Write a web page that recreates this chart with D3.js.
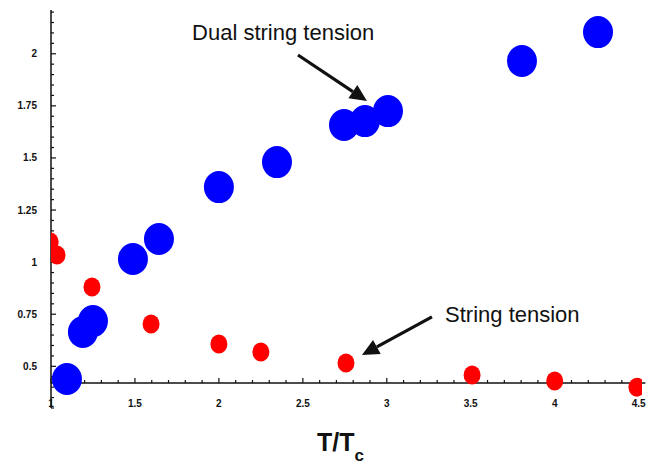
<!DOCTYPE html>
<html><head><meta charset="utf-8">
<script src="https://cdn.jsdelivr.net/npm/d3@7"></script>
<style>
html,body{margin:0;padding:0;background:#fff;}
svg{display:block;}
text{font-family:"Liberation Sans",Arial,sans-serif;}
</style></head>
<body>
<svg id="chart" width="667" height="466"></svg>
<script>
// Data (T/Tc vs tension)
const dualX = [1.095, 1.19, 1.25, 1.488, 1.643, 2.0, 2.346, 2.745, 2.87, 3.007, 3.805, 4.258];
const dualY = [0.439, 0.665, 0.717, 1.015, 1.111, 1.36, 1.48, 1.658, 1.677, 1.725, 1.965, 2.104];
const strX = [0.995, 1.036, 1.244, 1.596, 2.0, 2.25, 2.757, 3.508, 4.0, 4.49];
const strY = [1.097, 1.034, 0.881, 0.703, 0.607, 0.569, 0.516, 0.458, 0.43, 0.40];
const xTickLabels = ["1", "1.5", "2", "2.5", "3", "3.5", "4", "4.5"];
const yTickLabels = ["0.5", "0.75", "1", "1.25", "1.5", "1.75", "2"];
const annLabels = ["Dual string tension", "String tension"];
const annTextPos = [[1.84, 2.066], [3.347, 0.713]];
const annArrowFrom = [[2.471, 1.994], [3.269, 0.737]];
const annArrowTo = [[2.882, 1.773], [2.852, 0.554]];

const svg = d3.select("#chart");
const x = d3.scaleLinear().domain([1, 4.52]).range([51, 642]);
const y = d3.scaleLinear().domain([0.3, 2.21]).range([408, 10]);
const xAxisY = 0.42;

// clip for plot region
svg.append("defs").append("clipPath").attr("id","clip")
  .append("rect").attr("x", x(1)).attr("y", 0).attr("width", x(4.52)-x(1)).attr("height", 466);

// axes lines
svg.append("line").attr("x1", x(1)).attr("x2", x(4.54)).attr("y1", y(xAxisY)).attr("y2", y(xAxisY))
  .attr("stroke","#111").attr("stroke-width",1.5);
svg.append("line").attr("x1", x(1)).attr("x2", x(1)).attr("y1", y(0.3)).attr("y2", y(2.21))
  .attr("stroke","#111").attr("stroke-width",1.5);

// x ticks
const xMinor = d3.range(10, 46).map(d => d/10);
svg.append("g").selectAll("line").data(xMinor).join("line")
  .attr("x1", d => x(d)).attr("x2", d => x(d))
  .attr("y1", y(xAxisY))
  .attr("y2", d => y(xAxisY) - (Math.abs(d*2 - Math.round(d*2)) < 1e-6 ? 5 : 3))
  .attr("stroke","#111").attr("stroke-width",1.2);
svg.append("g").selectAll("text").data(xTickLabels).join("text")
  .attr("x", d => x(+d)).attr("y", 407)
  .attr("text-anchor","middle").attr("font-size",10).attr("font-weight","bold")
  .attr("fill","#111").text(d => d);

// y ticks
const yMinor = d3.range(6, 45).map(d => d*0.05);
svg.append("g").selectAll("line").data(yMinor).join("line")
  .attr("x1", x(1)).attr("y1", d => y(d)).attr("y2", d => y(d))
  .attr("x2", d => x(1) + (Math.abs(d*4 - Math.round(d*4)) < 1e-6 ? 5 : 3))
  .attr("stroke","#111").attr("stroke-width",1.2);
svg.append("g").selectAll("text").data(yTickLabels).join("text")
  .attr("x", 37).attr("y", d => y(+d) + 3.5)
  .attr("text-anchor","end").attr("font-size",10).attr("font-weight","bold")
  .attr("fill","#111").text(d => d);

// points
const plot = svg.append("g").attr("clip-path","url(#clip)");
plot.selectAll("ellipse.str").data(strX.map((v,i)=>[v,strY[i]])).join("ellipse")
  .attr("class","str").attr("cx", d => x(d[0])).attr("cy", d => y(d[1]))
  .attr("rx", 8.5).attr("ry", 9.5).attr("fill","#ff0000");
plot.selectAll("ellipse.dual").data(dualX.map((v,i)=>[v,dualY[i]])).join("ellipse")
  .attr("class","dual").attr("cx", d => x(d[0])).attr("cy", d => y(d[1]))
  .attr("rx", 15).attr("ry", 16).attr("fill","#0000ff");

// annotations
annLabels.forEach((lab, i) => {
  svg.append("text").attr("x", x(annTextPos[i][0])).attr("y", y(annTextPos[i][1]))
    .attr("font-size", 22).attr("fill","#111").text(lab);
  const x0 = x(annArrowFrom[i][0]), y0 = y(annArrowFrom[i][1]);
  const x1 = x(annArrowTo[i][0]), y1 = y(annArrowTo[i][1]);
  const ang = Math.atan2(y1 - y0, x1 - x0);
  const L = 17, W = 8;
  const bx = x1 - L*Math.cos(ang), by = y1 - L*Math.sin(ang);
  svg.append("line").attr("x1", x0).attr("y1", y0).attr("x2", bx).attr("y2", by)
    .attr("stroke","#111").attr("stroke-width",3.2);
  const px = -Math.sin(ang), py = Math.cos(ang);
  svg.append("path").attr("d", `M${x1},${y1}L${bx+px*W},${by+py*W}L${bx-px*W},${by-py*W}Z`)
    .attr("fill","#111");
});

// axis title
const t = svg.append("text").attr("x", 317).attr("y", 451)
  .attr("font-size", 25).attr("font-weight","bold").attr("fill","#111");
t.append("tspan").text("T/T");
t.append("tspan").attr("dy", 10).attr("font-size", 17).text("c");
</script>
</body></html>
